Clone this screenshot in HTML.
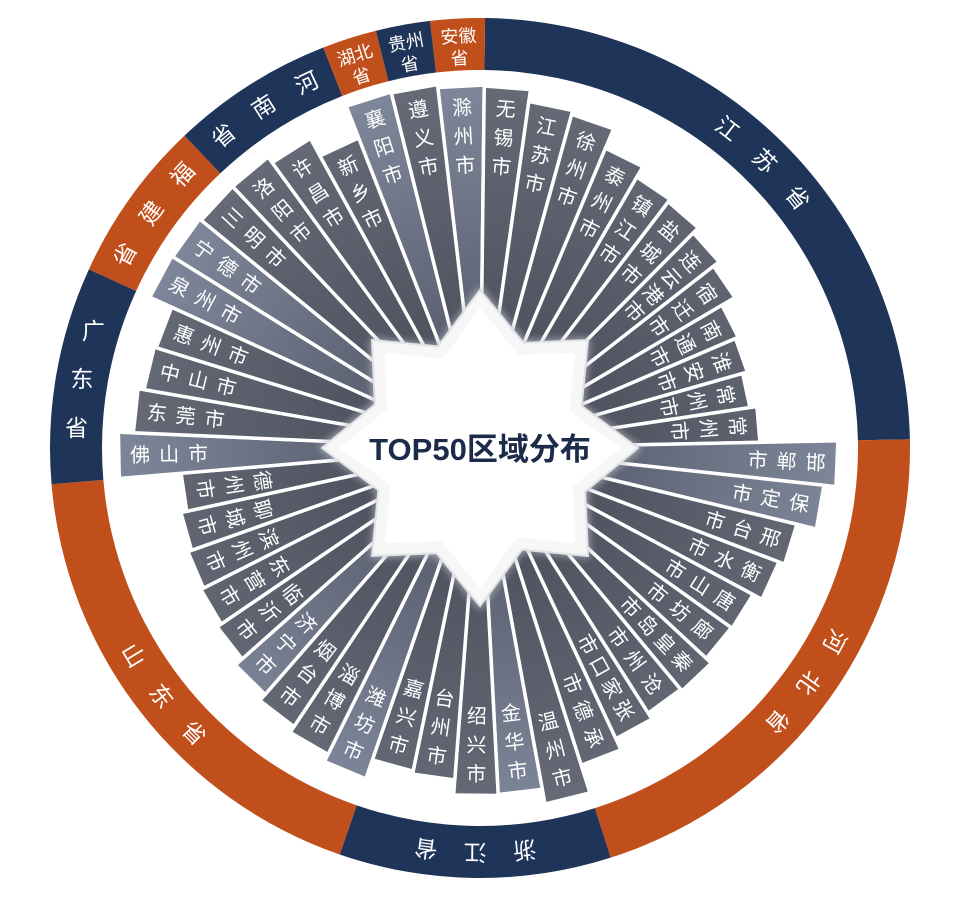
<!DOCTYPE html>
<html><head><meta charset="utf-8">
<style>
html,body{margin:0;padding:0;background:#fff;}
svg{display:block;}
text{font-family:"Liberation Sans","Noto Sans CJK SC",sans-serif;}
</style></head>
<body>
<svg id="s" width="960" height="897" viewBox="0 0 960 897" xmlns="http://www.w3.org/2000/svg">
<defs>
<radialGradient id="bg1" cx="480" cy="448" r="370" gradientUnits="userSpaceOnUse">
<stop offset="0.3" stop-color="#4f5360"/><stop offset="1" stop-color="#666b77"/></radialGradient>
<radialGradient id="bg2" cx="480" cy="448" r="370" gradientUnits="userSpaceOnUse">
<stop offset="0.3" stop-color="#5a6070"/><stop offset="1" stop-color="#7f889b"/></radialGradient>
<filter id="sh" x="-20%" y="-20%" width="140%" height="140%"><feGaussianBlur stdDeviation="4"/></filter>
</defs>
<g id="g"></g>
</svg>
<script>
var NS="http://www.w3.org/2000/svg",g=document.getElementById('g');
var cx=480,cy=448;
function el(t,a,p){var e=document.createElementNS(NS,t);for(var k in a)e.setAttribute(k,a[k]);(p||g).appendChild(e);return e;}
function pt(r,th){var a=th*Math.PI/180;return [cx+r*Math.sin(a),cy-r*Math.cos(a)];}
var names=["滁州市","无锡市","江苏市","徐州市","泰州市","镇江市","盐城市","连云港市","宿迁市","南通市","淮安市","常州市","常州市",
"邯郸市","保定市","邢台市","衡水市","唐山市","廊坊市","秦皇岛市","沧州市","张家口市","承德市",
"温州市","金华市","绍兴市","台州市","嘉兴市",
"潍坊市","淄博市","烟台市","济宁市","临沂市","东营市","滨州市","聊城市","德州市",
"佛山市","东莞市","中山市","惠州市",
"泉州市","宁德市","三明市",
"洛阳市","许昌市","新乡市","襄阳市","遵义市"];
var R=[363,362,350,346,325,313,310,303,296,281,278,273,280,
358,346,326,320,310,309,316,314,321,333,
362,347,348,333,330,
350,342,335,327,318,313,310,306,300,
362,347,341,339,
363,362,360,
360,353,333,367,366];
var light={0:1,47:1,13:1,14:1,37:1,41:1,42:1,24:1,31:1,28:1};
var N=49,step=360/N,t0=-3,h=step/2;
function arc(a1,a2,r1,r2,col){
 var p1=pt(r2,a1),p2=pt(r2,a2),p3=pt(r1,a2),p4=pt(r1,a1),lg=(a2-a1)>180?1:0;
 el('path',{d:'M'+p1+' A'+r2+' '+r2+' 0 '+lg+' 1 '+p2+' L'+p3+' A'+r1+' '+r1+' 0 '+lg+' 0 '+p4+'Z',fill:col});
}
var NAVY="#1e3458",OR="#c14f1c";
var prov=[[1,12,NAVY,"江苏省"],[13,22,OR,"河北省"],[23,27,NAVY,"浙江省"],[28,36,OR,"山东省"],[37,40,NAVY,"广东省"],[41,43,OR,"福建省"],[44,46,NAVY,"河南省"],[47,47,OR,"湖北省"],[48,48,NAVY,"贵州省"],[0,0,OR,"安徽省"]];
prov.forEach(function(p){
 var a1=t0+p[0]*step-h,a2=t0+p[1]*step+h;
 if(p[0]==0){a1=t0-h;a2=t0+h;}
 arc(a1,a2,378,430,p[2]);
 var s=p[3];
 if(p[0]==p[1]){
  var m=t0+p[0]*step;if(p[0]==0)m=t0;
  var c1=pt(412,m),c2=pt(390,m);
  el('text',{x:c1[0],y:c1[1]+6,'text-anchor':'middle','font-size':18,fill:'#fff',transform:'rotate('+m+' '+c1[0]+' '+c1[1]+')'}).textContent=s.slice(0,2);
  el('text',{x:c2[0],y:c2[1]+6,'text-anchor':'middle','font-size':18,fill:'#fff',transform:'rotate('+m+' '+c2[0]+' '+c2[1]+')'}).textContent=s.slice(2);
  return;
 }
 var mid=(a1+a2)/2;var nm=((mid%360)+360)%360;
 var left=nm>200&&nm<340;
 var sp=7;
 for(var i=0;i<3;i++){
  var ang=left?mid-(i-1)*sp:mid+(i-1)*sp;
  var c=pt(404,ang);
  var rot=ang;
  if(left&&nm<260)rot=ang-180;
  if(p[3]=="广东省")rot=0;
  el('text',{x:c[0],y:c[1]+8,'text-anchor':'middle','font-size':23,fill:'#fff',transform:'rotate('+rot+' '+c[0]+' '+c[1]+')'}).textContent=s[i];
 }
});
for(var i=0;i<N;i++){
 var th=t0+i*step,r=R[i];
 var a=pt(r,th-h),b=pt(r,th+h),c0=pt(40,th-h),c1=pt(40,th+h);
 el('polygon',{points:c0+' '+a+' '+b+' '+c1,fill:light[i]?'url(#bg2)':'url(#bg1)',stroke:'#fff','stroke-width':3.5,'stroke-linejoin':'miter'});
}
for(var i=0;i<N;i++){
 var th=t0+i*step,r=R[i],s=names[i],n=s.length;
 var rot,order;
 if(i<=12||i>=44){rot=th;order=1;}
 else if(i<=22){rot=th-90;order=1;}
 else if(i<=36){rot=th-180;order=-1;}
 else {rot=th-270;order=1;}
 var sp=n>3?25:29;
 for(var k=0;k<n;k++){
  var idx=order==1?k:(n-1-k);
  var rr=r-22-k*sp;
  var c=pt(rr,th);
  el('text',{x:c[0],y:c[1]+7,'text-anchor':'middle','font-size':20,fill:'#fff',transform:'rotate('+rot+' '+c[0]+' '+c[1]+')'}).textContent=s[idx];
 }
}
function star(rOut,sq){
 var pts=[];
 for(var k=0;k<8;k++){
  var ang=k*45;var p=pt(k%2==0?rOut:sq*Math.SQRT2,ang);pts.push(p);
  var p2=pt(k%2==0?rOut*0.72:sq*Math.SQRT2*0.72,ang+22.5);pts.push(p2);
 }
 return pts.join(' ');
}
el('polygon',{points:star(162,110),fill:'#b9bcc4',filter:'url(#sh)',opacity:0.8});
el('polygon',{points:star(158,108),fill:'#f7f7f8',stroke:'#e2e3e6','stroke-width':2});
el('polygon',{points:star(140,95),fill:'#ffffff'});
el('text',{x:480,y:460,'text-anchor':'middle','font-size':31,'font-weight':'bold',fill:'#1d2b4a'}).textContent="TOP50区域分布";
</script>
</body></html>
